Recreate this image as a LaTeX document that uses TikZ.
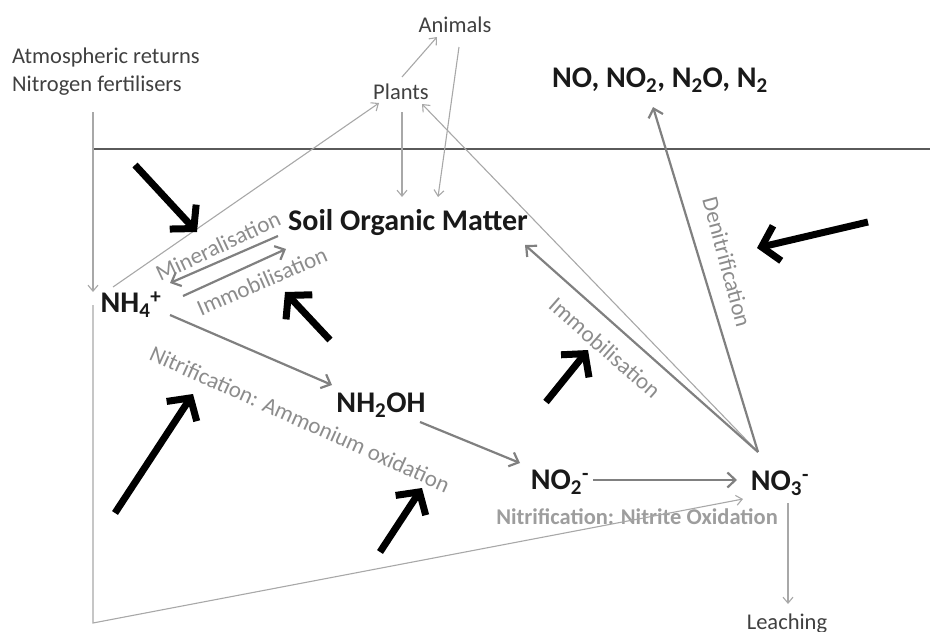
\documentclass[tikz,border=0pt]{standalone}
\usepackage{fontspec}
\setmainfont{Carlito}
\usetikzlibrary{arrows.meta}
\definecolor{dk}{HTML}{404040}
\definecolor{lbl}{HTML}{8C8C8C}
\definecolor{thinc}{HTML}{A8A8A8}
\definecolor{medc}{HTML}{808080}
\definecolor{soilc}{HTML}{5A5A5A}
\tikzset{
  small/.style={font=\fontsize{22.5}{28}\selectfont, text=dk, inner sep=0pt},
  main/.style={font=\fontsize{30}{36}\selectfont\bfseries, text=black!90, inner sep=0pt},
  lab/.style={font=\fontsize{23}{28}\selectfont, text=lbl, inner sep=0pt},
  thinarr/.style={draw=thinc, line width=1.1pt, -{Straight Barb[length=6pt,width=10pt]}},
  medarr/.style={draw=medc, line width=2.2pt, -{Straight Barb[length=8pt,width=15pt]}},
  blk/.style={draw=black, line width=7pt, -{Straight Barb[length=16pt,width=36pt]}},
}
\begin{document}
\begin{tikzpicture}[x=1pt,y=-1pt]
\useasboundingbox (0,0) rectangle (930,632);
% ground line
\draw[soilc, line width=2.5pt] (93,149) -- (930,149);
% nodes
\node[small, anchor=west, align=left] (atm) at (12,72) {Atmospheric returns\\Nitrogen fertilisers};
\node[small] (animals) at (455,25) {Animals};
\node[small] (plants) at (401,92) {Plants};
\node[main] (gases) at (660,80) {NO, NO\textsubscript{2}, N\textsubscript{2}O, N\textsubscript{2}};
\node[main] (som) at (408,223) {Soil Organic Matter};
\node[main] (nh4) at (131,305) {NH\textsubscript{4}\textsuperscript{+}};
\node[main] (nh2oh) at (381,405) {NH\textsubscript{2}OH};
\node[main] (no2) at (560,482) {NO\textsubscript{2}\textsuperscript{-}};
\node[main] (no3) at (780,483) {NO\textsubscript{3}\textsuperscript{-}};
\node[small] (leach) at (787,624) {Leaching};
% process labels
\node[lab, rotate=25] (lmin) at (218,246) {Mineralisation};
\node[lab, rotate=23.5] (limm1) at (262,281) {Immobilisation};
\node[lab, rotate=-24.2] (lnit) at (300,419) {Nitrification: Ammonium oxidation};
\node[lab, rotate=-41.3] (limm2) at (605,348) {Immobilisation};
\node[lab, rotate=-75] (lden) at (727,262) {Denitrification};
\node[lab, font=\fontsize{22.5}{28}\selectfont\bfseries, text=lbl!85] (lnox) at (637,517) {Nitrification: Nitrite Oxidation};
\coordinate (corner) at (93,623);
% thin connectors
\draw[thinarr] ([shift={(81,40)}]atm.west) -- ([shift={(-38,-13)}]nh4.center);
\draw[thinarr] ([shift={(-38,0)}]nh4.center) -- (corner) -- ([shift={(-37,16)}]no3.center);
\draw[thinarr] ([shift={(-18,-18)}]nh4.center) -- ([shift={(-22,11)}]plants.center);
\draw[thinarr] ([shift={(1,-15)}]plants.center) -- ([shift={(-18,12)}]animals.center);
\draw[thinarr] ([shift={(4,22)}]animals.center) -- ([shift={(30,-26)}]som.center);
\draw[thinarr] ([shift={(1,20)}]plants.center) -- ([shift={(-6,-26)}]som.center);
\draw[thinarr] ([shift={(-22,-31)}]no3.center) -- ([shift={(21,12)}]plants.center);
\draw[thinarr] ([shift={(8,20)}]no3.center) -- ([shift={(1,-20)}]leach.center);
% medium connectors
\draw[medarr] ([shift={(-130,13)}]som.center) -- ([shift={(39,-22)}]nh4.center);
\draw[medarr] ([shift={(52,-9)}]nh4.center) -- ([shift={(-122,26)}]som.center);
\draw[medarr] ([shift={(39,10)}]nh4.center) -- ([shift={(-49,-20)}]nh2oh.center);
\draw[medarr] ([shift={(39,17)}]nh2oh.center) -- ([shift={(-40,-19)}]no2.center);
\draw[medarr] ([shift={(33,-2)}]no2.center) -- ([shift={(-43,-3)}]no3.center);
\draw[medarr] ([shift={(-22,-31)}]no3.center) -- ([shift={(-7,27)}]gases.center);
\draw[medarr] ([shift={(-22,-31)}]no3.center) -- ([shift={(117,22)}]som.center);
% black indicator arrows
\draw[blk] (135,165) -- (197,232);
\draw[blk] (330,340) -- (285,292);
\draw[blk] (115,513) -- (193,394);
\draw[blk] (380,552) -- (422,488);
\draw[blk] (546,402) -- (588,350);
\draw[blk] (868,222) -- (757,248);
\end{tikzpicture}
\end{document}
